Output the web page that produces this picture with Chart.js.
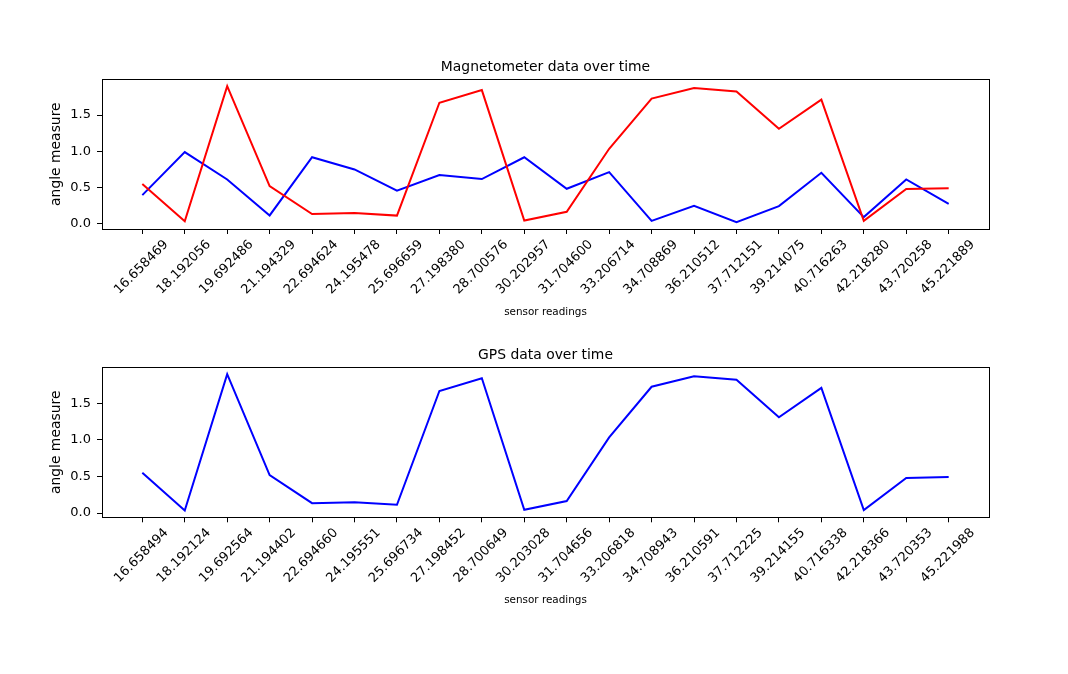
<!DOCTYPE html>
<html>
<head>
<meta charset="utf-8">
<script src="https://cdn.jsdelivr.net/npm/chart.js@4"></script>
<style>
  html, body { margin: 0; padding: 0; background: #ffffff; }
  body { width: 1068px; height: 674px; position: relative; overflow: hidden; }
  canvas { position: absolute; left: 0; }
  #c1 { top: 0; }
  #c2 { top: 337px; }
</style>
</head>
<body>
<canvas id="c1" width="1068" height="337"></canvas>
<canvas id="c2" width="1068" height="337"></canvas>
<script>
// ---- data ----
const magTimeLabels = ["16.658469","18.192056","19.692486","21.194329","22.694624","24.195478","25.696659","27.198380","28.700576","30.202957","31.704600","33.206714","34.708869","36.210512","37.712151","39.214075","40.716263","42.218280","43.720258","45.221889"];
const gpsTimeLabels = ["16.658494","18.192124","19.692564","21.194402","22.694660","24.195551","25.696734","27.198452","28.700649","30.203028","31.704656","33.206818","34.708943","36.210591","37.712225","39.214155","40.716338","42.218366","43.720353","45.221988"];
const magRed  = [0.55, 0.035, 1.90, 0.52, 0.135, 0.148, 0.113, 1.67, 1.845, 0.045, 0.165, 1.035, 1.728, 1.873, 1.824, 1.31, 1.713, 0.04, 0.48, 0.492];
const magBlue = [0.396, 0.99, 0.612, 0.115, 0.918, 0.75, 0.456, 0.672, 0.617, 0.918, 0.483, 0.712, 0.041, 0.249, 0.022, 0.244, 0.704, 0.092, 0.612, 0.276];
const gpsValues = [0.55, 0.035, 1.90, 0.52, 0.135, 0.148, 0.113, 1.67, 1.845, 0.045, 0.165, 1.035, 1.728, 1.873, 1.824, 1.31, 1.713, 0.04, 0.48, 0.492];
const yTickValues = [0, 0.5, 1.0, 1.5];

const FONT = "'DejaVu Sans', 'Liberation Sans', sans-serif";

const boxPlugin = {
  id: 'axesBox',
  afterDraw(chart) {
    const a = chart.chartArea, ctx = chart.ctx;
    ctx.save();
    ctx.strokeStyle = '#000';
    ctx.lineWidth = 1;
    ctx.strokeRect(Math.round(a.left) + 0.5, Math.round(a.top) + 0.5,
                   Math.round(a.right - a.left), Math.round(a.bottom - a.top));
    ctx.restore();
  }
};

function margins(arrs) {
  const all = [].concat(...arrs);
  const mn = Math.min(...all), mx = Math.max(...all);
  const r = mx - mn;
  return { min: mn - 0.05 * r, max: mx + 0.05 * r };
}

function makeChart(id, title, labels, series, cfg) {
  const yr = margins(series.map(s => s.data));
  const n = labels.length;
  const datasets = series.map(s => ({
    data: s.data.map((v, i) => ({ x: i, y: v })),
    borderColor: s.color,
    borderWidth: 2,
    pointRadius: 0,
    fill: false,
    tension: 0
  }));
  return new Chart(document.getElementById(id), {
    type: 'line',
    data: { datasets },
    options: {
      responsive: false,
      animation: false,
      devicePixelRatio: 1,
      layout: { padding: { left: 0, right: 79, top: 0, bottom: 0 } },
      plugins: {
        legend: { display: false },
        tooltip: { enabled: false },
        title: {
          display: true, text: title, color: '#000', fullSize: false,
          font: { family: FONT, size: 13.9, weight: 'normal' },
          padding: { top: cfg.titleTop, bottom: cfg.titleBottom }
        }
      },
      scales: {
        x: {
          type: 'linear',
          min: -0.05 * (n - 1), max: (n - 1) * 1.05,
          afterBuildTicks: (s) => { s.ticks = labels.map((_, i) => ({ value: i })); },
          afterFit: (s) => { s.height = cfg.xHeight; },
          border: { display: false },
          grid: { display: true, drawOnChartArea: false, drawTicks: true, tickLength: 5, color: '#000', lineWidth: 1 },
          ticks: {
            autoSkip: false, minRotation: 45, maxRotation: 45,
            labelOffset: 24, padding: 3,
            color: '#000', font: { family: FONT, size: 13 },
            callback: (v) => labels[v]
          },
          title: {
            display: true, text: 'sensor readings', color: '#000',
            font: { family: FONT, size: 10.4 },
            padding: { top: 0, bottom: cfg.xTitleBottom }
          }
        },
        y: {
          type: 'linear',
          min: yr.min, max: yr.max,
          afterBuildTicks: (s) => { s.ticks = yTickValues.map(v => ({ value: v })); },
          afterFit: (s) => { s.width = 102; },
          border: { display: false },
          grid: { display: true, drawOnChartArea: false, drawTicks: true, tickLength: 5, color: '#000', lineWidth: 1 },
          ticks: {
            padding: 6, color: '#000', font: { family: FONT, size: 13 },
            callback: (v) => Number(v).toFixed(1)
          },
          title: {
            display: true, text: 'angle measure', color: '#000',
            font: { family: FONT, size: 13.9 },
            padding: { top: 48.4, bottom: 0 }
          }
        }
      }
    },
    plugins: [boxPlugin]
  });
}

makeChart('c1', 'Magnetometer data over time', magTimeLabels,
  [{ data: magRed, color: '#ff0000' }, { data: magBlue, color: '#0000ff' }],
  { titleTop: 59.2, titleBottom: 3.4, xHeight: 108, xTitleBottom: 18.4 });

makeChart('c2', 'GPS data over time', gpsTimeLabels,
  [{ data: gpsValues, color: '#0000ff' }],
  { titleTop: 9.9, titleBottom: 3.8, xHeight: 156.7, xTitleBottom: 67.4 });
</script>
</body>
</html>
